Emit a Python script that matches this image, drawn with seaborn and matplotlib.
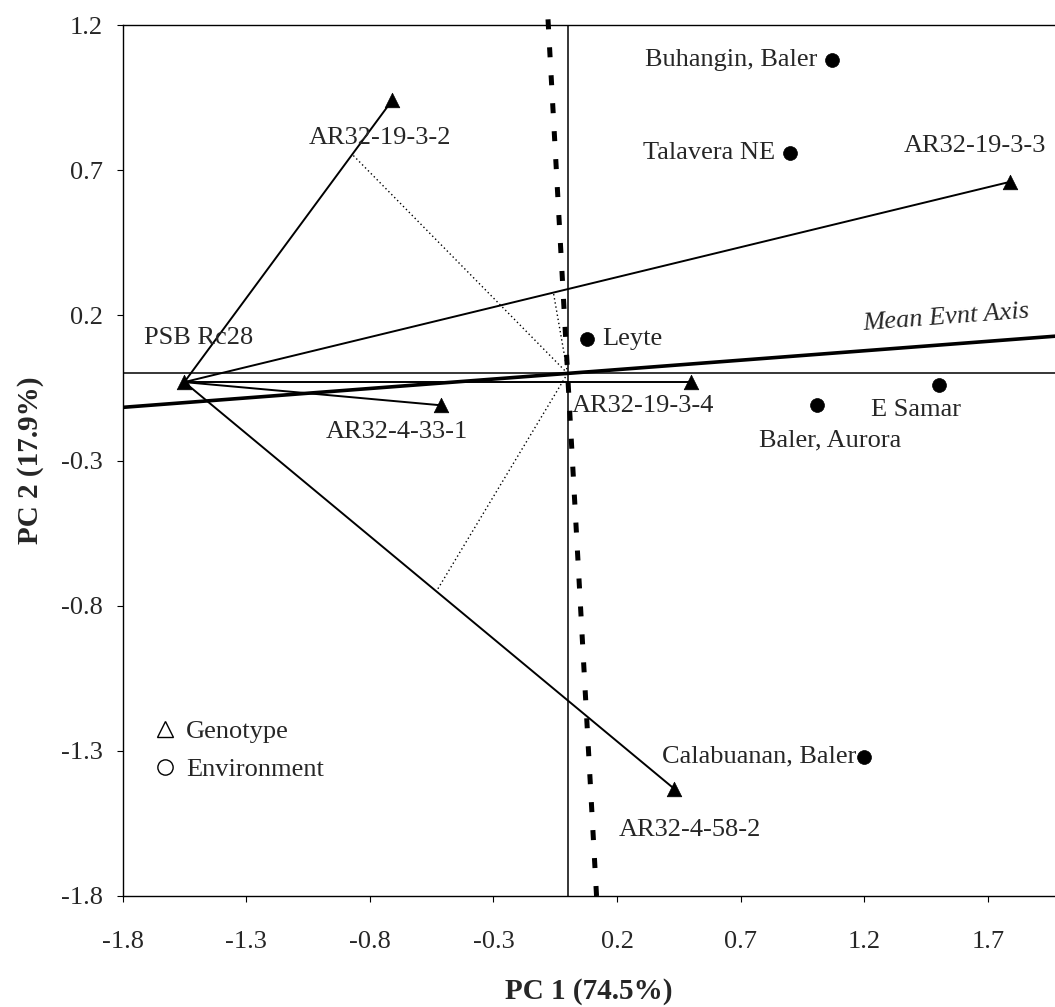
import numpy as np
import pandas as pd
import matplotlib
matplotlib.use("Agg")
import matplotlib.pyplot as plt
from matplotlib.lines import Line2D
import seaborn as sns

# Genotype scores on the first two principal components
genotypes = ["PSB Rc28", "AR32-19-3-2", "AR32-19-3-3", "AR32-4-33-1", "AR32-19-3-4", "AR32-4-58-2"]
geno_pc1 = [-1.55, -0.71, 1.79, -0.51, 0.50, 0.43]
geno_pc2 = [-0.03, 0.94, 0.66, -0.11, -0.03, -1.43]

# Environment scores
environments = ["Buhangin, Baler", "Talavera NE", "Leyte", "Baler, Aurora", "E Samar", "Calabuanan, Baler"]
env_pc1 = [1.07, 0.90, 0.08, 1.01, 1.50, 1.20]
env_pc2 = [1.08, 0.76, 0.12, -0.11, -0.04, -1.32]

# Axis ticks
x_ticks = [-1.8, -1.3, -0.8, -0.3, 0.2, 0.7, 1.2, 1.7]
y_ticks = [1.2, 0.7, 0.2, -0.3, -0.8, -1.3, -1.8]
x_label = "PC 1 (74.5%)"
y_label = "PC 2 (17.9%)"

# Slope of the average environment axis
aea_slope = 0.065

# Label offsets (points) for each marker: (dx, dy, ha)
geno_offsets = {
    "PSB Rc28": (-29, 32, "left"),
    "AR32-19-3-2": (-60, -27, "left"),
    "AR32-19-3-3": (-77, 26, "left"),
    "AR32-4-33-1": (-32, -19, "center"),
    "AR32-19-3-4": (-86, -17, "left"),
    "AR32-4-58-2": (-40, -30, "left"),
}
env_offsets = {
    "Buhangin, Baler": (-11, 0, "right"),
    "Talavera NE": (-11, 0, "right"),
    "Leyte": (11, 0, "left"),
    "Baler, Aurora": (9, -25, "center"),
    "E Samar": (-16, -18, "center"),
    "Calabuanan, Baler": (-6, 0, "right"),
}

geno_df = pd.DataFrame({"name": genotypes, "pc1": geno_pc1, "pc2": geno_pc2})
env_df = pd.DataFrame({"name": environments, "pc1": env_pc1, "pc2": env_pc2})

sns.set_theme(style="white")
plt.rcParams["font.family"] = ["Liberation Serif", "DejaVu Serif"]

fig = plt.figure(figsize=(10.55, 10.07), dpi=100)
ax = fig.add_axes([122.5 / 1055, 111 / 1007, (1055 - 122.5) / 1055, 871 / 1007])

xmin, xmax = -1.8, 1.971
ymin, ymax = -1.8, 1.2
ax.set_xlim(xmin, xmax)
ax.set_ylim(ymin, ymax)

# Biplot axes through the origin
ax.axhline(0, color="black", lw=1.1, zorder=1)
ax.axvline(0, color="black", lw=1.1, zorder=1)

# Lines from the check variety to every other genotype
origin_g = geno_df.iloc[0]
for _, row in geno_df.iloc[1:].iterrows():
    ax.plot([origin_g.pc1, row.pc1], [origin_g.pc2, row.pc2], color="black", lw=1.4, zorder=2)

# Perpendiculars from the origin onto selected genotype lines
for target in ["AR32-19-3-2", "AR32-19-3-3", "AR32-4-58-2"]:
    row = geno_df[geno_df.name == target].iloc[0]
    p = np.array([origin_g.pc1, origin_g.pc2])
    d = np.array([row.pc1, row.pc2]) - p
    t = -p.dot(d) / d.dot(d)
    foot = p + t * d
    ax.plot([0, foot[0]], [0, foot[1]], color="black", lw=1.0, ls=(0, (1, 2)), zorder=2)

# Average environment axis and its perpendicular (ATC ordinate)
xs = np.array([xmin, xmax])
ax.plot(xs, aea_slope * xs, color="black", lw=2.6, zorder=3)
ys = np.array([ymin, ymax + 0.02])
ax.plot(-aea_slope * ys, ys, color="black", lw=3.6, ls=(0, (2.0, 3.6)), zorder=3,
        dash_capstyle="butt", clip_on=False)

ax.text(1.53, 0.19, "Mean Evnt Axis", fontsize=19, style="italic", ha="center", va="center",
        rotation=4.3, rotation_mode="anchor")

# Markers
sns.scatterplot(data=geno_df, x="pc1", y="pc2", marker="^", s=110, color="black", edgecolor="black",
                linewidth=0.5, ax=ax, zorder=4, legend=False)
sns.scatterplot(data=env_df, x="pc1", y="pc2", marker="o", s=100, color="black", edgecolor="black",
                linewidth=0.5, ax=ax, zorder=4, legend=False)

for df, offs in [(geno_df, geno_offsets), (env_df, env_offsets)]:
    for _, row in df.iterrows():
        dx, dy, ha = offs[row["name"]]
        ax.annotate(row["name"], (row.pc1, row.pc2), xytext=(dx, dy), textcoords="offset points",
                    ha=ha, va="center", fontsize=19, zorder=5)

# Legend with hollow symbols
handles = [
    Line2D([], [], ls="none", marker="^", markersize=11, markerfacecolor="white",
           markeredgecolor="black", markeredgewidth=1.0, label="Genotype"),
    Line2D([], [], ls="none", marker="o", markersize=11, markerfacecolor="white",
           markeredgecolor="black", markeredgewidth=1.0, label="Environment"),
]
ax.legend(handles=handles, loc="upper left", bbox_to_anchor=(0.02, 0.215), frameon=False,
          fontsize=19, handletextpad=0.3, labelspacing=0.55, handlelength=1.0, borderaxespad=0)

ax.set_xticks(x_ticks)
ax.set_yticks(y_ticks)
ax.set_xticklabels([f"{v:.1f}" for v in x_ticks])
ax.set_yticklabels([f"{v:.1f}" for v in y_ticks])
ax.tick_params(axis="x", direction="out", length=4, width=0.8, pad=21, labelsize=19, color="black",
               bottom=True)
ax.tick_params(axis="y", direction="out", length=4, width=0.8, pad=10, labelsize=19, color="black",
               left=True)
ax.set_xlabel(x_label, fontsize=21, fontweight="bold", labelpad=18)
ax.set_ylabel(y_label, fontsize=21, fontweight="bold", labelpad=12)

for side in ["left", "bottom", "top"]:
    ax.spines[side].set_visible(True)
    ax.spines[side].set_color("black")
    ax.spines[side].set_linewidth(1.0)
ax.spines["right"].set_visible(False)

fig.savefig("out.png", dpi=100, facecolor="white")
